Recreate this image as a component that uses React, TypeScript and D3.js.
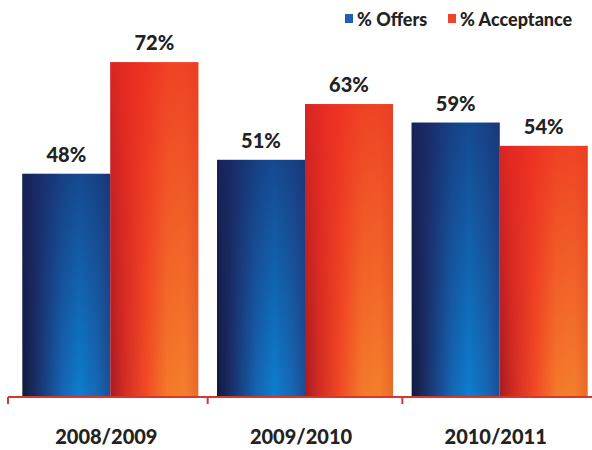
import React from 'react';
import * as d3 from 'd3';

const years = ['2008/2009', '2009/2010', '2010/2011'];
const series = ['% Offers', '% Acceptance'];
const offers = [48, 51, 59];
const acceptance = [72, 63, 54];

const W = 592;
const H = 450;

export default function App() {
  const x = d3.scaleBand<string>().domain(years).range([13, 597]).paddingInner(0).paddingOuter(0);
  const inner = d3.scaleBand<string>().domain(series).range([0, x.bandwidth()]).paddingOuter(0.106).paddingInner(0);
  const y = d3.scaleLinear().domain([0, 100]).range([397, -68]);

  const rows = years.map((yr, i) => ({ yr, vals: [offers[i], acceptance[i]] }));
  const font = 'Lato, "Open Sans", sans-serif';

  return (
    <svg width={W} height={H} style={{ position: 'absolute', left: 0, top: 0, background: '#fff' }}>
      <defs>
        <linearGradient id="gBlue" x1="0" x2="1" y1="0" y2="0">
          <stop offset="0%" stopColor="#111a3e" />
          <stop offset="15%" stopColor="#1a2d63" />
          <stop offset="45%" stopColor="#1465b3" />
          <stop offset="65%" stopColor="#0c7fcf" />
          <stop offset="85%" stopColor="#1668b5" />
          <stop offset="100%" stopColor="#1c4f95" />
        </linearGradient>
        <linearGradient id="gBlueV" x1="0" x2="0" y1="0" y2="1">
          <stop offset="0%" stopColor="#1a2766" stopOpacity={0.6} />
          <stop offset="100%" stopColor="#1a2766" stopOpacity={0} />
        </linearGradient>
        <linearGradient id="gRed" x1="0" x2="1" y1="0" y2="0">
          <stop offset="0%" stopColor="#a61b22" />
          <stop offset="15%" stopColor="#d02a24" />
          <stop offset="40%" stopColor="#f04a24" />
          <stop offset="65%" stopColor="#f47a2a" />
          <stop offset="85%" stopColor="#f47f2c" />
          <stop offset="100%" stopColor="#e86a28" />
        </linearGradient>
        <linearGradient id="gRedV" x1="0" x2="0" y1="0" y2="1">
          <stop offset="0%" stopColor="#ec2a22" stopOpacity={0.7} />
          <stop offset="100%" stopColor="#ec2a22" stopOpacity={0} />
        </linearGradient>
      </defs>

      {rows.map(r => (
        <g key={r.yr} transform={`translate(${x(r.yr)},0)`}>
          {r.vals.map((v, j) => {
            const bx = inner(series[j]) as number;
            const bw = inner.bandwidth();
            const top = y(v);
            const h = y(0) - top;
            const base = j === 0 ? 'gBlue' : 'gRed';
            return (
              <g key={j}>
                <rect x={bx} y={top} width={bw} height={h} fill={`url(#${base})`} />
                <rect x={bx} y={top} width={bw} height={h} fill={`url(#${base}V)`} />
                <text x={bx + bw / 2} y={top - 12} textAnchor="middle" fontFamily={font}
                  fontWeight={900} fontSize={20} fill="#222">{v}%</text>
              </g>
            );
          })}
        </g>
      ))}

      {/* axis */}
      <line x1={8} x2={592} y1={y(0)} y2={y(0)} stroke="#d23a30" strokeWidth={2} />
      {[8, ...years.slice(1).map(d => x(d) as number)].map((tx, i) => (
        <line key={i} x1={tx} x2={tx} y1={y(0)} y2={y(0) + 7} stroke="#d23a30" strokeWidth={2} />
      ))}
      {years.map(d => (
        <text key={d} x={(x(d) as number) + x.bandwidth() / 2 - 4} y={444} textAnchor="middle"
          fontFamily={font} fontWeight={900} fontSize={20} fill="#222">{d}</text>
      ))}

      {/* legend */}
      <rect x={345} y={14} width={8} height={9} fill="#1f5fb0" />
      <text x={357} y={26} fontFamily={font} fontWeight={900} fontSize={18} fill="#222">{series[0]}</text>
      <rect x={448} y={14} width={8} height={9} fill="#f0442a" />
      <text x={460} y={26} fontFamily={font} fontWeight={900} fontSize={18} fill="#222">{series[1]}</text>
    </svg>
  );
}
